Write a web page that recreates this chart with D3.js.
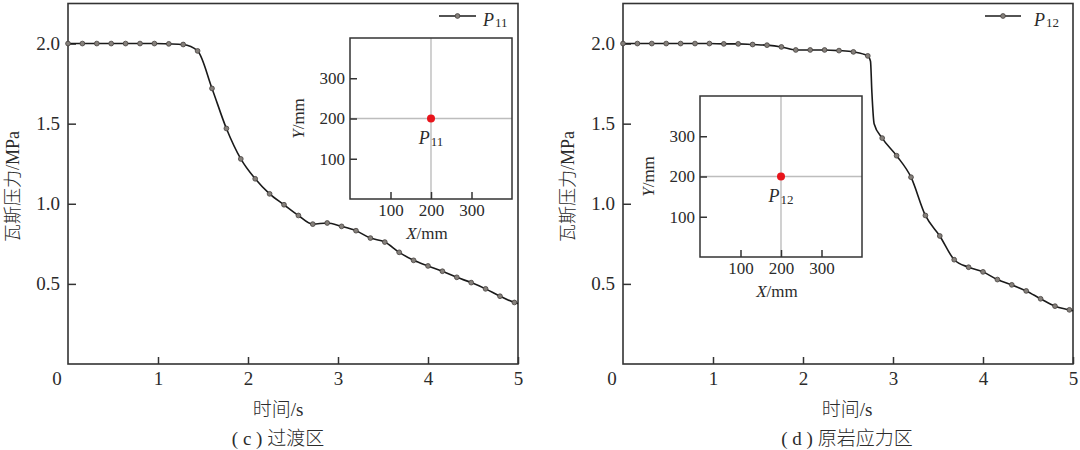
<!DOCTYPE html>
<html>
<head>
<meta charset="utf-8">
<script src="https://cdn.jsdelivr.net/npm/d3@7"></script>
<style>
  html, body { margin: 0; padding: 0; background: #fff; }
  svg { display: block; }
  text { fill: #2b2b2b; }
</style>
</head>
<body>
<svg id="chart" width="1080" height="450"></svg>
<script>
// ---------------- data ----------------
const times = [0, 0.16, 0.32, 0.48, 0.64, 0.80, 0.96, 1.12, 1.28, 1.44, 1.60, 1.76, 1.92, 2.08, 2.24, 2.40,
               2.56, 2.72, 2.88, 3.04, 3.20, 3.36, 3.52, 3.68, 3.84, 4.00, 4.16, 4.32, 4.48, 4.64, 4.80, 4.96];
const p11 = [2.0, 2.0, 2.0, 2.0, 2.0, 2.0, 2.0, 1.998, 1.994, 1.954, 1.72, 1.47, 1.28, 1.156, 1.062, 0.994,
             0.927, 0.873, 0.880, 0.859, 0.832, 0.786, 0.761, 0.697, 0.647, 0.612, 0.579, 0.541, 0.508, 0.469, 0.423, 0.384];
const p12 = [2.0, 2.0, 2.0, 2.0, 2.0, 2.0, 2.0, 1.998, 1.998, 1.994, 1.99, 1.979, 1.96, 1.96, 1.96, 1.956,
             1.948, 1.923, 1.41, 1.30, 1.166, 0.927, 0.799, 0.651, 0.604, 0.575, 0.527, 0.494, 0.456, 0.407, 0.361, 0.338];
// line-only points (no markers)
const endTime = 5;
const p11End = 0.378;
const p12End = 0.332;
const p12SteepTimes = [2.75, 2.765, 2.79];
const p12SteepValues = [1.89, 1.70, 1.50];

const xTicks = [1, 2, 3, 4, 5];
const yTicks = [0.5, 1.0, 1.5, 2.0];
const insetTicks = [100, 200, 300];
const pointPos = [200, 200];

const seriesNames = ["11", "12"];
const captions = ["( c ) 过渡区", "( d ) 原岩应力区"];
const yTitle = "瓦斯压力/MPa";
const xTitle = "时间/s";
const insetXTitle = "/mm";
const insetYTitle = "/mm";

// ---------------- layout ----------------
const panels = [
  { x0: 68, x1: 518, values: p11, end: p11End, extraT: [], extraV: [], name: seriesNames[0], caption: captions[0],
    inset: { x0: 350, x1: 512, y0: 38, y1: 199 }, legend: { lx0: 439, lx1: 476, tx: 483 },
    titleX: 278, ytitleX: 12.5 },
  { x0: 623, x1: 1073, values: p12, end: p12End, extraT: p12SteepTimes, extraV: p12SteepValues, name: seriesNames[1], caption: captions[1],
    inset: { x0: 700, x1: 862, y0: 96, y1: 257 }, legend: { lx0: 985, lx1: 1021, tx: 1034 },
    titleX: 847, ytitleX: 568 }
];
const yTop = 3.5, yBot = 364;
const serif = "'Liberation Serif', 'Times New Roman', serif";
const mixed = "'Liberation Serif', 'Noto Sans CJK SC', serif";
const frameColor = "#333";

const svg = d3.select("#chart");

panels.forEach(p => {
  const g = svg.append("g");
  const x = d3.scaleLinear().domain([0, 5]).range([p.x0, p.x1]);
  const y = d3.scaleLinear().domain([0, 2.25]).range([yBot, yTop]);

  // axes (ticks inward)
  const ax = g.append("g").attr("transform", `translate(0,${yBot})`)
    .call(d3.axisBottom(x).tickValues(xTicks).tickSize(-7).tickPadding(8).tickFormat(d3.format("d")));
  const ay = g.append("g").attr("transform", `translate(${p.x0},0)`)
    .call(d3.axisLeft(y).tickValues(yTicks).tickSize(-8).tickPadding(8).tickFormat(d3.format(".1f")));
  [ax, ay].forEach(a => {
    a.select(".domain").remove();
    a.selectAll(".tick line").attr("stroke", frameColor).attr("stroke-width", 1.5);
    a.selectAll(".tick text").attr("font-family", serif).attr("font-size", 19).attr("fill", "#2b2b2b");
  });
  // origin label
  g.append("text").attr("x", x(0) - 11).attr("y", yBot + 8).attr("dy", "0.71em")
    .attr("text-anchor", "middle").attr("font-family", serif).attr("font-size", 19).text("0");

  // frame
  g.append("rect").attr("x", p.x0).attr("y", yTop).attr("width", p.x1 - p.x0).attr("height", yBot - yTop)
    .attr("fill", "none").attr("stroke", frameColor).attr("stroke-width", 1.6);

  // titles
  g.append("text").attr("transform", `translate(${p.ytitleX},186.5) rotate(-90)`)
    .attr("text-anchor", "middle").attr("dominant-baseline", "central")
    .attr("font-family", mixed).attr("font-weight", 300).attr("fill", "#3a3a3a").attr("font-size", 18).text(yTitle);
  g.append("text").attr("x", p.titleX).attr("y", 409).attr("text-anchor", "middle").attr("dominant-baseline", "central")
    .attr("font-family", mixed).attr("font-weight", 300).attr("fill", "#3a3a3a").attr("font-size", 19).text(xTitle);
  g.append("text").attr("x", p.titleX).attr("y", 438).attr("text-anchor", "middle").attr("dominant-baseline", "central")
    .attr("font-family", mixed).attr("font-weight", 300).attr("fill", "#3a3a3a").attr("font-size", 19).text(p.caption);

  // line data
  const markerPts = times.map((t, i) => ({ t, v: p.values[i] }));
  const linePts = markerPts.concat(p.extraT.map((t, i) => ({ t, v: p.extraV[i] })))
    .concat([{ t: endTime, v: p.end }]).sort((a, b) => a.t - b.t);
  const line = d3.line().x(d => x(d.t)).y(d => y(d.v)).curve(d3.curveMonotoneX);
  g.append("path").datum(linePts).attr("d", line).attr("fill", "none")
    .attr("stroke", "#1a1a1a").attr("stroke-width", 1.6);
  g.selectAll("circle.mk").data(markerPts).join("circle").attr("class", "mk")
    .attr("cx", d => x(d.t)).attr("cy", d => y(d.v)).attr("r", 2.4)
    .attr("fill", "#85807b").attr("stroke", "#45403d").attr("stroke-width", 0.8);

  // legend
  const L = p.legend;
  g.append("line").attr("x1", L.lx0).attr("x2", L.lx1).attr("y1", 16).attr("y2", 16)
    .attr("stroke", "#1a1a1a").attr("stroke-width", 1.6);
  g.append("circle").attr("cx", (L.lx0 + L.lx1) / 2).attr("cy", 16).attr("r", 2.4)
    .attr("fill", "#85807b").attr("stroke", "#45403d").attr("stroke-width", 0.8);
  const lt = g.append("text").attr("x", L.tx).attr("y", 26).attr("font-family", serif).attr("font-size", 18);
  lt.append("tspan").attr("font-style", "italic").text("P");
  lt.append("tspan").attr("font-size", 13).attr("dy", 1).attr("dx", 1).text(p.name);

  // inset
  const I = p.inset;
  const ix = d3.scaleLinear().domain([0, 400]).range([I.x0, I.x1]);
  const iy = d3.scaleLinear().domain([0, 400]).range([I.y1, I.y0]);
  const ig = g.append("g");
  ig.append("rect").attr("x", I.x0).attr("y", I.y0).attr("width", I.x1 - I.x0).attr("height", I.y1 - I.y0)
    .attr("fill", "#fff").attr("stroke", "none");
  ig.append("line").attr("x1", ix(pointPos[0])).attr("x2", ix(pointPos[0])).attr("y1", I.y0).attr("y2", I.y1)
    .attr("stroke", "#bdbdbd").attr("stroke-width", 1.4);
  ig.append("line").attr("x1", I.x0).attr("x2", I.x1).attr("y1", iy(pointPos[1])).attr("y2", iy(pointPos[1]))
    .attr("stroke", "#bdbdbd").attr("stroke-width", 1.4);
  const iax = ig.append("g").attr("transform", `translate(0,${I.y1})`)
    .call(d3.axisBottom(ix).tickValues(insetTicks).tickSize(-7).tickPadding(5));
  const iay = ig.append("g").attr("transform", `translate(${I.x0},0)`)
    .call(d3.axisLeft(iy).tickValues(insetTicks).tickSize(-7).tickPadding(5));
  [iax, iay].forEach(a => {
    a.select(".domain").remove();
    a.selectAll(".tick line").attr("stroke", frameColor).attr("stroke-width", 1.5);
    a.selectAll(".tick text").attr("font-family", serif).attr("font-size", 17).attr("fill", "#2b2b2b");
  });
  ig.append("rect").attr("x", I.x0).attr("y", I.y0).attr("width", I.x1 - I.x0).attr("height", I.y1 - I.y0)
    .attr("fill", "none").attr("stroke", frameColor).attr("stroke-width", 1.5);
  ig.append("circle").attr("cx", ix(pointPos[0])).attr("cy", iy(pointPos[1])).attr("r", 4)
    .attr("fill", "#e8141b");
  const pl = ig.append("text").attr("x", ix(pointPos[0])).attr("y", iy(pointPos[1]) + 25)
    .attr("text-anchor", "middle").attr("font-family", serif).attr("font-size", 18);
  pl.append("tspan").attr("font-style", "italic").text("P");
  pl.append("tspan").attr("font-size", 13).attr("dy", 2).attr("dx", 1).text(p.name);
  // inset axis titles
  const xt = ig.append("text").attr("x", (I.x0 + I.x1) / 2 - 4).attr("y", I.y1 + 34)
    .attr("text-anchor", "middle").attr("dominant-baseline", "central").attr("font-family", serif).attr("font-size", 17);
  xt.append("tspan").attr("font-style", "italic").text("X");
  xt.append("tspan").text(insetXTitle);
  const yt = ig.append("text").attr("transform", `translate(${I.x0 - 52},${(I.y0 + I.y1) / 2}) rotate(-90)`)
    .attr("text-anchor", "middle").attr("dominant-baseline", "central").attr("font-family", serif).attr("font-size", 17);
  yt.append("tspan").attr("font-style", "italic").text("Y");
  yt.append("tspan").text(insetYTitle);
});
</script>
</body>
</html>
